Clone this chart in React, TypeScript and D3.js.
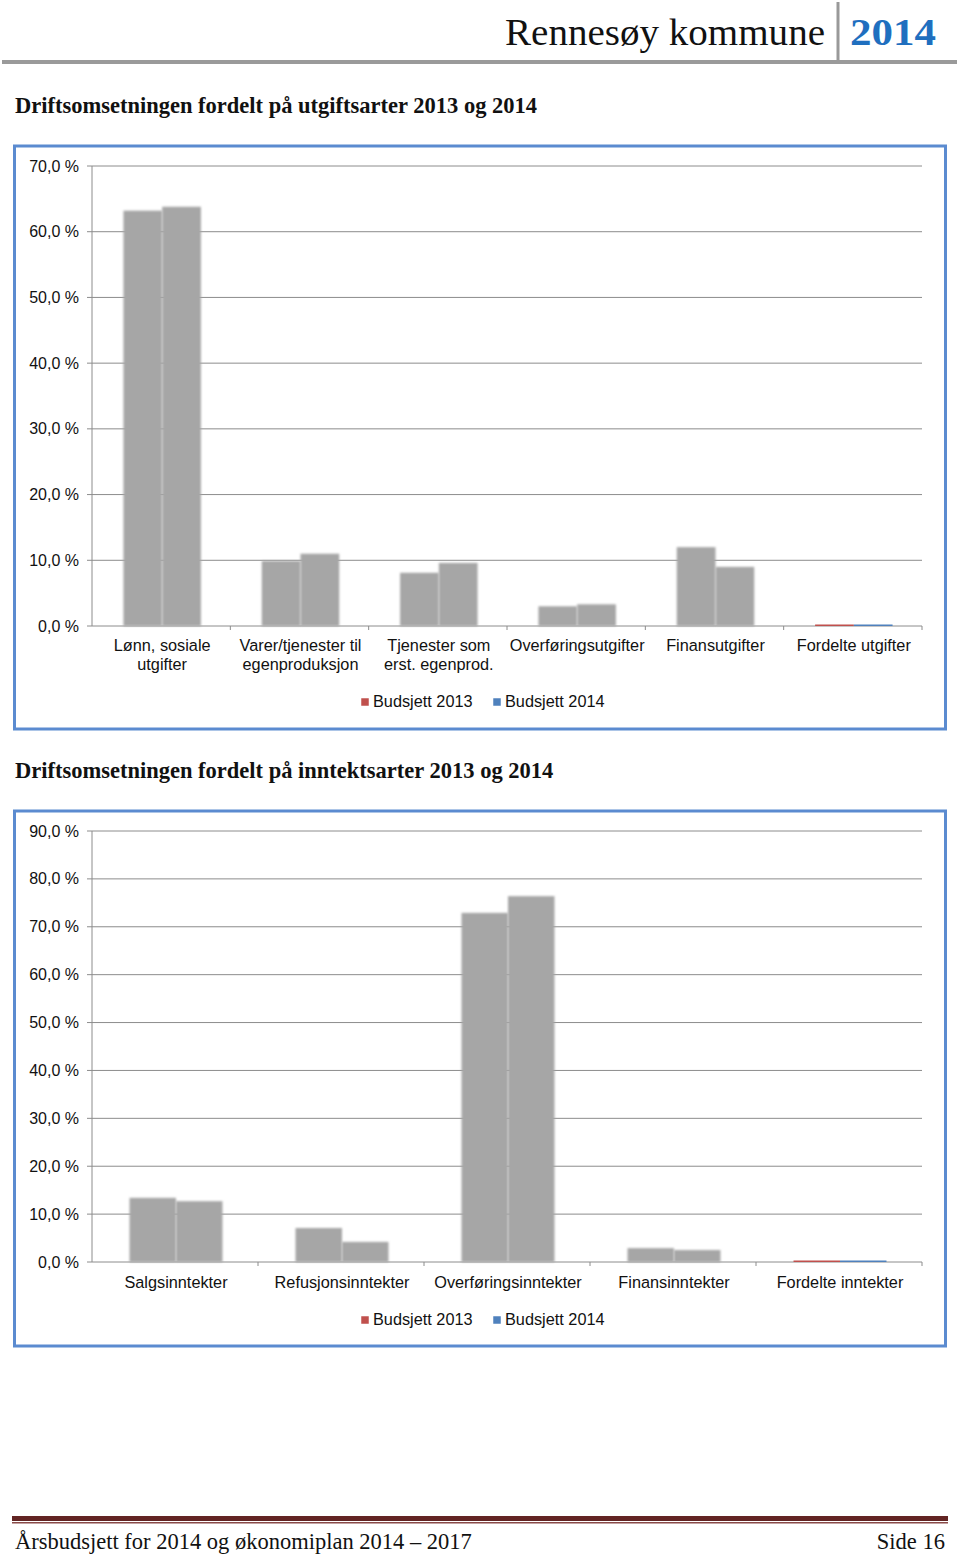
import React from "react";
import * as d3 from "d3";

const expCategories = ["Lønn, sosiale|utgifter", "Varer/tjenester til|egenproduksjon", "Tjenester som|erst. egenprod.", "Overføringsutgifter", "Finansutgifter", "Fordelte utgifter"];
const exp2013 = [63.2, 9.9, 8.1, 3.0, 12.0, 0.2];
const exp2014 = [63.8, 11.0, 9.6, 3.3, 9.0, 0.2];
const expTicks = [0, 10, 20, 30, 40, 50, 60, 70];

const incCategories = ["Salgsinntekter", "Refusjonsinntekter", "Overføringsinntekter", "Finansinntekter", "Fordelte inntekter"];
const inc2013 = [13.4, 7.1, 72.9, 2.9, 0.2];
const inc2014 = [12.7, 4.2, 76.4, 2.5, 0.2];
const incTicks = [0, 10, 20, 30, 40, 50, 60, 70, 80, 90];

const seriesNames = ["Budsjett 2013", "Budsjett 2014"];
const seriesColors = ["#C0504D", "#4F81BD"];

const sans = "'Liberation Sans', Arial, sans-serif";
const serif = "'Liberation Serif', 'Times New Roman', serif";

type ChartProps = {
  top: number; bottom: number; plotTop: number; plotBottom: number;
  categories: string[]; s1: number[]; s2: number[]; ticks: number[]; max: number;
  labelY: number; legendY: number;
};

function Chart({ top, bottom, plotTop, plotBottom, categories, s1, s2, ticks, max, labelY, legendY }: ChartProps) {
  const x0 = d3.scaleBand().domain(categories).range([92, 922]).paddingInner(0).paddingOuter(0);
  const y = d3.scaleLinear().domain([0, max]).range([plotBottom, plotTop]);
  const bw = x0.bandwidth() * 0.28;
  const series = [s1, s2];
  return (
    <g>
      <rect x={14.5} y={top} width={931} height={bottom - top} fill="#fff" stroke="#5B8BD0" strokeWidth={3} />
      {ticks.map((t) => (
        <g key={t}>
          <line x1={87} x2={922} y1={y(t)} y2={y(t)} stroke="#8c8c8c" strokeWidth={1} />
          <text x={79} y={y(t) + 5.5} textAnchor="end" fontFamily={sans} fontSize={16} fill="#111">
            {t.toFixed(1).replace(".", ",")} %
          </text>
        </g>
      ))}
      <line x1={92} x2={92} y1={plotTop} y2={plotBottom} stroke="#8c8c8c" strokeWidth={1} />
      {categories.map((c, i) => (
        <line key={"t" + i} x1={(x0(c) as number) + x0.bandwidth()} x2={(x0(c) as number) + x0.bandwidth()} y1={plotBottom} y2={plotBottom + 4} stroke="#8c8c8c" />
      ))}
      {series.map((s, si) =>
        s.map((v, i) => {
          const cx = (x0(categories[i]) as number) + x0.bandwidth() / 2 + 1;
          const bx = cx - bw + si * bw;
          const small = v < 0.5;
          return (
            <rect key={si + "-" + i} x={bx} y={small ? y(0) - 1.5 : y(v)} width={bw} height={small ? 1.5 : y(0) - y(v)}
              fill={small ? seriesColors[si] : "#A6A6A6"} filter={small ? undefined : "url(#soft)"} />
          );
        })
      )}
      {categories.map((c, i) => {
        const lines = c.split("|");
        const cx = (x0(c) as number) + x0.bandwidth() / 2 + 1;
        return (
          <text key={"l" + i} x={cx} y={labelY} textAnchor="middle" fontFamily={sans} fontSize={16.3} fill="#111">
            {lines.map((ln, k) => (
              <tspan key={k} x={cx} dy={k === 0 ? 0 : 19}>{ln}</tspan>
            ))}
          </text>
        );
      })}
      {seriesNames.map((n, i) => {
        const lx = 361 + i * 132;
        return (
          <g key={n}>
            <rect x={lx} y={legendY - 9} width={8} height={8} fill={seriesColors[i]} stroke="#fff" strokeWidth={0.5} />
            <text x={lx + 12} y={legendY} fontFamily={sans} fontSize={16.3} fill="#111">{n}</text>
          </g>
        );
      })}
    </g>
  );
}

export default function App() {
  return (
    <svg width={960} height={1554} style={{ position: "absolute", left: 0, top: 0, display: "block" }}>
      <defs>
        <filter id="soft" x="-10%" y="-10%" width="120%" height="120%">
          <feGaussianBlur stdDeviation={0.9} />
        </filter>
      </defs>
      <rect x={0} y={0} width={960} height={1554} fill="#fff" />
      {/* Header */}
      <text x={505} y={45} fontFamily={serif} fontSize={38} fill="#111" textLength={320} lengthAdjust="spacingAndGlyphs">Rennesøy kommune</text>
      <line x1={838} x2={838} y1={2} y2={60} stroke="#999" strokeWidth={3} />
      <text x={850} y={45} fontFamily={serif} fontSize={38} fontWeight="bold" fill="#1F6FBF" textLength={86} lengthAdjust="spacingAndGlyphs">2014</text>
      <line x1={2} x2={957} y1={62} y2={62} stroke="#9a9a9a" strokeWidth={4} />

      <text x={15} y={113} fontFamily={serif} fontSize={22.5} fontWeight="bold" fill="#111">Driftsomsetningen fordelt på utgiftsarter 2013 og 2014</text>
      <Chart top={146} bottom={729} plotTop={166} plotBottom={626} categories={expCategories} s1={exp2013} s2={exp2014}
        ticks={expTicks} max={70} labelY={651} legendY={707} />

      <text x={15} y={778} fontFamily={serif} fontSize={22.5} fontWeight="bold" fill="#111">Driftsomsetningen fordelt på inntektsarter 2013 og 2014</text>
      <Chart top={811} bottom={1346} plotTop={831} plotBottom={1262} categories={incCategories} s1={inc2013} s2={inc2014}
        ticks={incTicks} max={90} labelY={1288} legendY={1325} />

      {/* Footer */}
      <rect x={12} y={1516} width={936} height={5} fill="#622423" />
      <rect x={12} y={1522} width={936} height={1.5} fill="#8a4a48" />
      <text x={15} y={1549} fontFamily={serif} fontSize={22.5} fill="#111">Årsbudsjett for 2014 og økonomiplan 2014 – 2017</text>
      <text x={945} y={1549} textAnchor="end" fontFamily={serif} fontSize={22.5} fill="#111">Side 16</text>
    </svg>
  );
}
